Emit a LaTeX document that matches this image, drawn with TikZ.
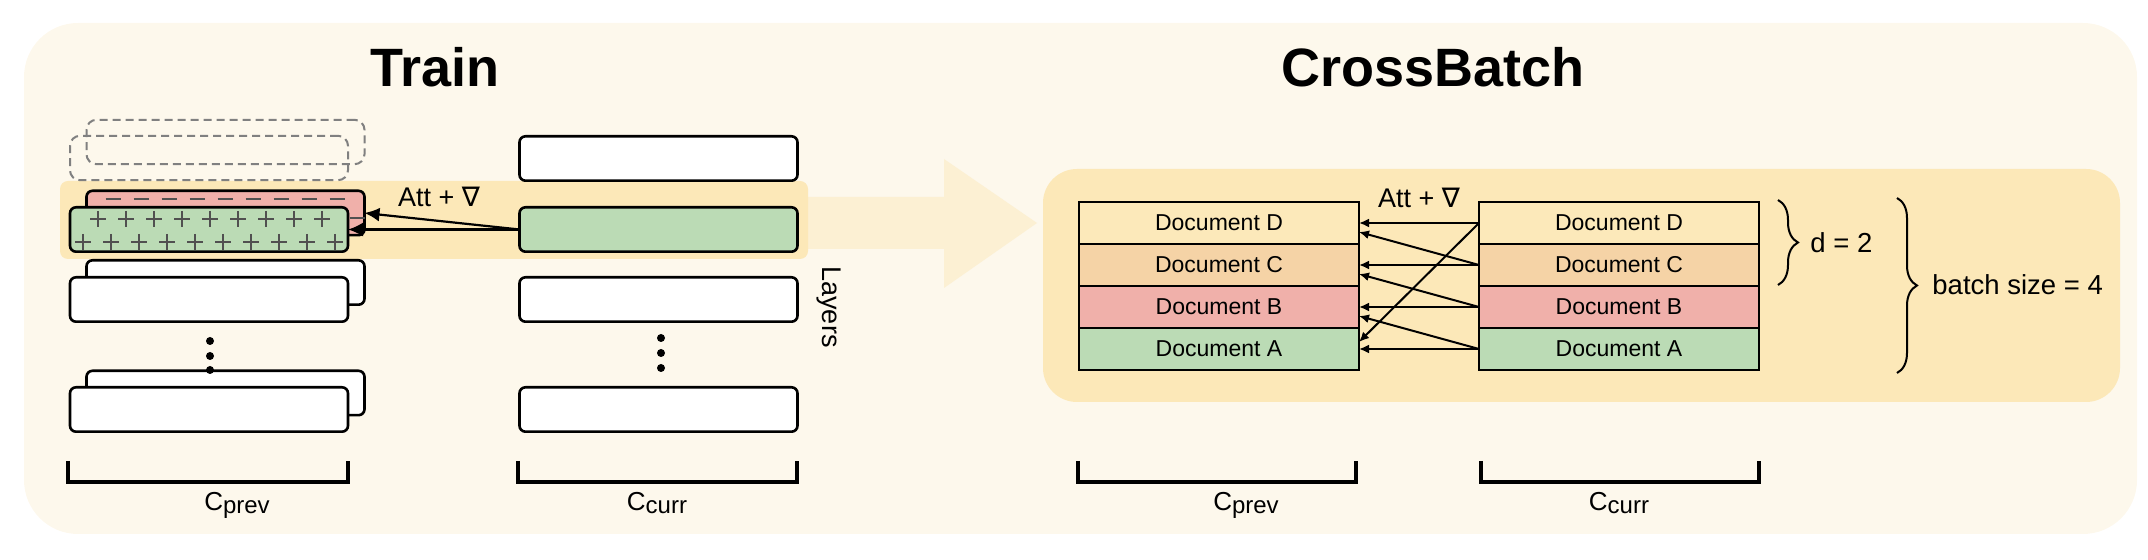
\documentclass[tikz,border=0pt]{standalone}
\usepackage{fontspec}
\setmainfont{Liberation Sans}
\newfontfamily\symfont{DejaVu Sans}
\usetikzlibrary{arrows.meta,positioning,calc,decorations.pathreplacing}
\definecolor{CBCream}{RGB}{253,248,236}
\definecolor{CBBand}{RGB}{252,232,184}
\definecolor{CBShaft}{RGB}{252,240,211}
\definecolor{CBDocD}{RGB}{252,233,186}
\definecolor{CBDocC}{RGB}{245,211,166}
\definecolor{CBDocB}{RGB}{240,176,170}
\definecolor{CBDocA}{RGB}{187,219,181}
\definecolor{CBSign}{RGB}{80,80,80}
\definecolor{CBGhost}{RGB}{128,128,128}
\newcommand{\csub}[1]{C\raisebox{-1.3pt}{\fontsize{12}{12}\selectfont #1}}

\begin{document}
\begin{tikzpicture}[
    x=0.5pt, y=-0.5pt,
    layer/.style={draw, line width=1.3pt, rounded corners=3pt, fill=white, minimum width=139pt, minimum height=22.2pt, inner sep=0pt, outer sep=0pt},
    ghost/.style={draw=CBGhost, line width=1pt, dash pattern=on 4pt off 2.5pt, rounded corners=5pt, minimum width=139pt, minimum height=22.2pt, inner sep=0pt, outer sep=0pt},
    docrow/.style={draw, line width=1.2pt, minimum width=140pt, minimum height=21pt, inner sep=0pt, outer sep=0pt, font=\fontsize{11.5}{13}\selectfont},
    title/.style={font=\fontsize{27}{30}\selectfont\bfseries, anchor=base},
    lbl/.style={font=\fontsize{13.5}{15}\selectfont},
    side/.style={font=\fontsize{13.75}{15}\selectfont, anchor=west, inner sep=0pt},
    clbl/.style={font=\fontsize{13}{15}\selectfont, anchor=base},
    sign/.style={draw=CBSign, line width=1pt},
    trainarrow/.style={-{Latex[length=7.5pt,width=7pt]}, line width=1.1pt},
    cbarrow/.style={-{Latex[length=5pt,width=4.5pt]}, line width=1pt},
    span/.style={line width=2pt},
    curly/.style={decorate, decoration={brace, amplitude=10pt}, line width=1pt}
  ]
    \useasboundingbox (0,0) rectangle (2148,560);
    % backgrounds
    \fill[CBCream, rounded corners=27pt] (24,23) rectangle (2137,534);
    \fill[CBShaft] (700,197) -- (944,197) -- (944,159) -- (1037,223) -- (944,288) -- (944,249) -- (700,249) -- cycle;
    \fill[CBBand, rounded corners=4pt] (60,181) rectangle (808,259);
    \fill[CBBand, rounded corners=17pt] (1043,169) rectangle (2120,402);

    \node[title] (traintitle) at (435,87) {Train};
    \node[title] (cbtitle) at (1433,87) {CrossBatch};

    % Train: previous chunk
    \node[ghost] (ghostb) at (225.5,142) {};
    \node[ghost] (ghostf) at (209,158) {};
    \node[layer, fill=CBDocB] (pr) at (225.5,213) {};
    \foreach \i in {0,...,8} {\draw[sign, line width=1.1pt] (113+28*\i-7.5,199) -- ++(15,0);}
    \foreach \i in {0,...,9} {\draw[sign, line width=1.1pt] (357-28*\i-7.5,218) -- ++(15,0);}
    \node[layer, fill=CBDocA] (pg) at (209,229.5) {};
    \foreach \i in {0,...,8} {\draw[sign] (98+28*\i-8,219) -- ++(16,0) ++(-8,-8) -- ++(0,16);}
    \foreach \i in {0,...,9} {\draw[sign] (83+28*\i-8,242) -- ++(16,0) ++(-8,-8) -- ++(0,16);}
    \node[layer] (pb2) at (225.5,282.5) {};
    \node[layer] (pf2) at (209,299.5) {};
    \node[layer] (pbn) at (225.5,393) {};
    \node[layer] (pfn) at (209,409.5) {};
    \foreach \y in {341,356,370} {\fill (210,\y) circle (2pt);}

    % Train: current chunk
    \node[layer] (cu1) at (658.5,158.5) {};
    \node[layer, fill=CBDocA] (cg) at (658.5,229.5) {};
    \node[layer] (cu2) at (658.5,299.5) {};
    \node[layer] (cun) at (658.5,409.5) {};
    \foreach \y in {338,353,368} {\fill (661,\y) circle (2pt);}

    \draw[trainarrow] (cg.west) -- (pr.east);
    \draw[trainarrow] (cg.west) -- (pg.east);
    \node[lbl, anchor=base] (trainatt) at (439,207) {Att + {\symfont ∇}};
    \node[lbl, rotate=-90] (layers) at (829,307) {Layers};

    \draw[span] (68,461) -- (68,482) -- (348,482) -- (348,461);
    \draw[span] (518,461) -- (518,482) -- (797,482) -- (797,461);
    \node[clbl] (trainprev) at (237,511) {\csub{prev}};
    \node[clbl] (traincurr) at (657,511) {\csub{curr}};

    % CrossBatch
    \node[docrow, fill=CBDocD] (pd) at (1219,223) {Document D};
    \node[docrow, fill=CBDocC, below=0pt of pd] (pc) {Document C};
    \node[docrow, fill=CBDocB, below=0pt of pc] (pb) {Document B};
    \node[docrow, fill=CBDocA, below=0pt of pb] (pa) {Document A};
    \node[docrow, fill=CBDocD, right=60pt of pd] (cd) {Document D};
    \node[docrow, fill=CBDocC, below=0pt of cd] (cc) {Document C};
    \node[docrow, fill=CBDocB, below=0pt of cc] (cb) {Document B};
    \node[docrow, fill=CBDocA, below=0pt of cb] (ca) {Document A};

    \foreach \s/\t in {cd/pd,cc/pc,cb/pb,ca/pa} {\draw[cbarrow] (\s.west) -- (\t.east);}
    \foreach \s/\t in {cc/pd,cb/pc,ca/pb} {\draw[cbarrow] (\s.west) -- ($(\t.east)+(0,9)$);}
    \draw[cbarrow] (cd.west) -- ($(pa.east)+(0,-7)$);
    \node[lbl, anchor=base] (cbatt) at (1419,208) {Att + {\symfont ∇}};

    \draw[curly] ($(cd.north east)+(19,-2)$) -- ($(cc.south east)+(19,-1)$);
    \node[side] (dlab) at (1810,243) {d = 2};
    \draw[curly] ($(cd.north east)+(138,-4)$) -- ($(ca.south east)+(138,3)$);
    \node[side] (bslab) at (1932,285) {batch size = 4};

    \draw[span] (1078,461) -- (1078,482) -- (1356,482) -- (1356,461);
    \draw[span] (1481,461) -- (1481,482) -- (1759,482) -- (1759,461);
    \node[clbl] (cbprev) at (1246,511) {\csub{prev}};
    \node[clbl] (cbcurr) at (1619,511) {\csub{curr}};
  \end{tikzpicture}
\end{document}
